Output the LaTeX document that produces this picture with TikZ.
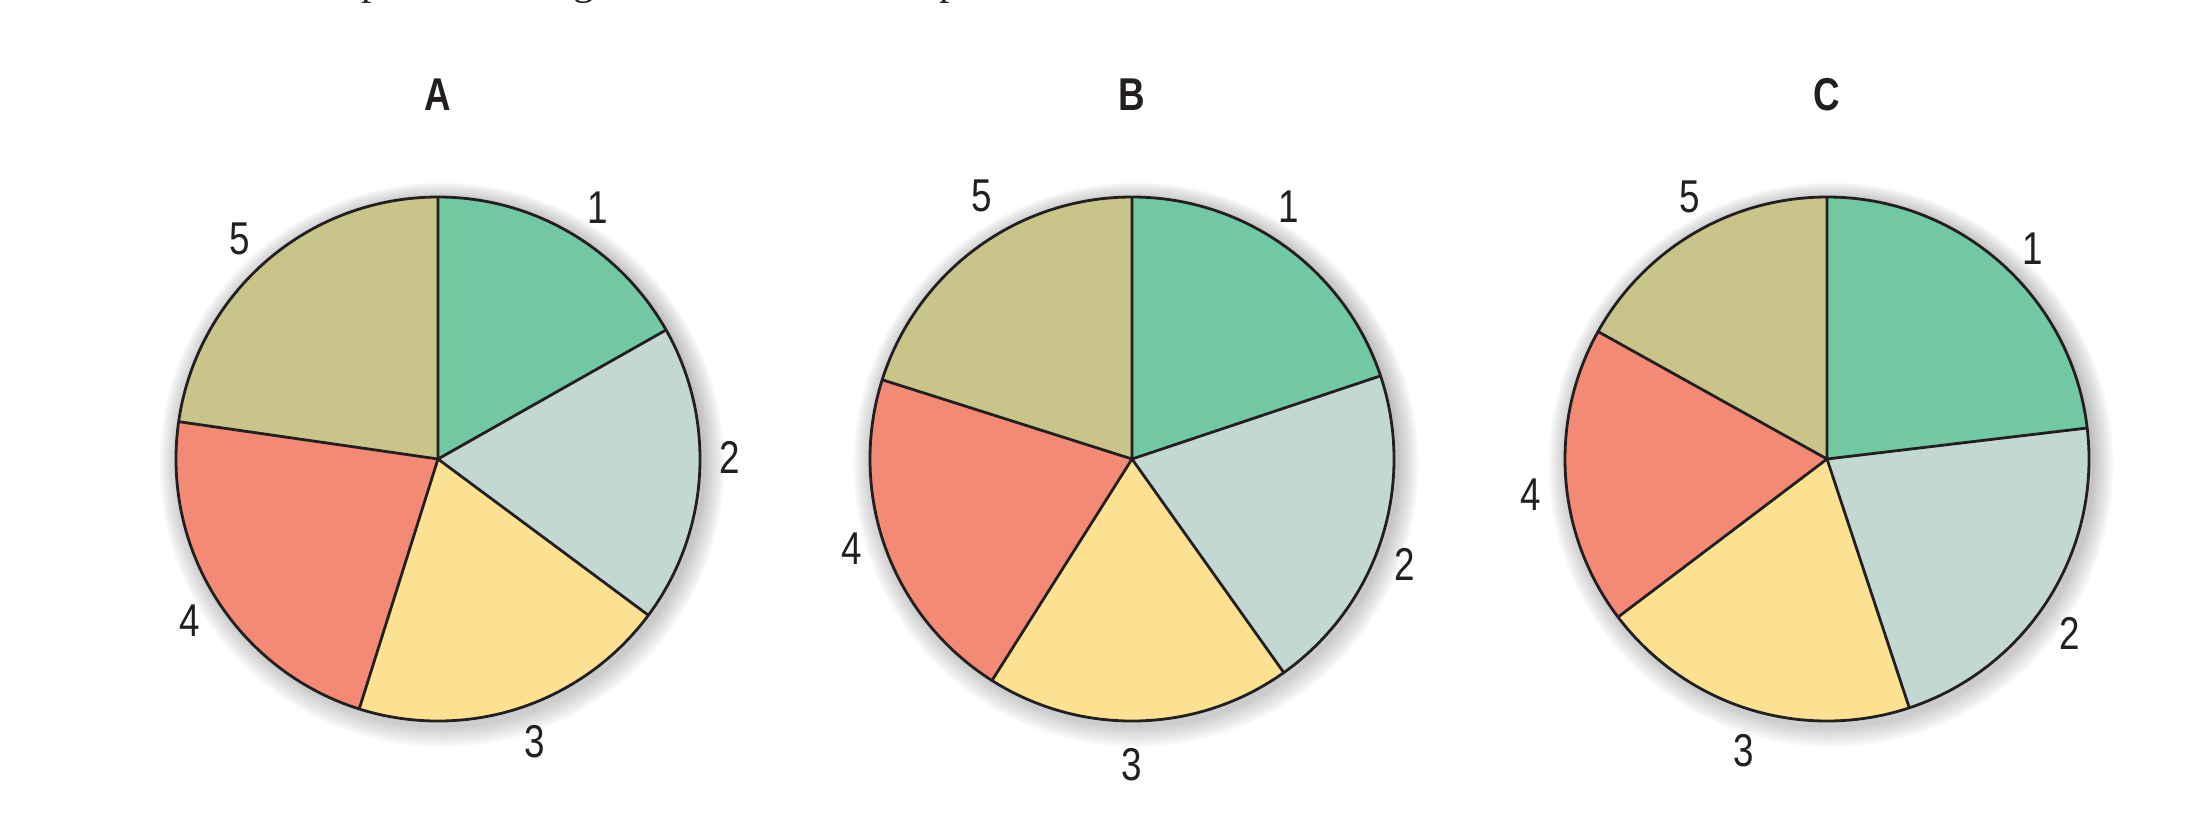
\documentclass[tikz,border=0pt]{standalone}
\usepackage{fontspec}
\newfontfamily\labfont{Liberation Sans}[FakeStretch=0.8]
\newfontfamily\fragfont{Liberation Serif}
\definecolor{sgreen}{RGB}{114,200,162}
\definecolor{sgray}{RGB}{196,216,211}
\definecolor{syellow}{RGB}{252,225,146}
\definecolor{ssalmon}{RGB}{243,138,117}
\definecolor{skhaki}{RGB}{201,196,138}
\definecolor{edge}{RGB}{35,31,32}
\definecolor{shade}{RGB}{80,82,95}
\tikzset{
  lab/.style={font=\labfont\fontsize{23}{27}\selectfont, text=edge, inner sep=0pt},
  ttl/.style={font=\labfont\bfseries\fontsize{23}{27}\selectfont, text=edge, inner sep=0pt},
  frag/.style={font=\fragfont\fontsize{21}{25}\selectfont, text=edge, inner sep=0pt, anchor=base},
  rim/.style={draw=edge, line width=1.4pt, line join=round},
}
\newcommand\mypie[7]{%
  \coordinate (#1) at (#2,#3);
  \foreach \k in {1,2.5,4,5.5,7,8.5,10,11.5,13,14.5,16,17.5,19,20.5}{
    \fill[shade, opacity=0.016, shift={(#1)}] (4,-6) circle[radius=262+\k];
  }
  \fill[sgreen]  (#1) -- ++(#4:262) arc[start angle=#4, end angle=90, radius=262] -- cycle;
  \fill[sgray]   (#1) -- ++(#5:262) arc[start angle=#5, end angle=#4, radius=262] -- cycle;
  \fill[syellow] (#1) -- ++(#6:262) arc[start angle=#6, end angle=#5, radius=262] -- cycle;
  \fill[ssalmon] (#1) -- ++(#7:262) arc[start angle=#7, end angle={#6+360}, radius=262] -- cycle;
  \fill[skhaki]  (#1) -- ++(90:262) arc[start angle=90, end angle=#7, radius=262] -- cycle;
  \draw[rim] (#1) -- ++(90:262) (#1) -- ++(#4:262) (#1) -- ++(#5:262)
             (#1) -- ++(#6:262) (#1) -- ++(#7:262);
  \draw[rim] (#1) circle[radius=262];
}
\begin{document}
\begin{tikzpicture}[x=0.5pt,y=0.5pt]
\useasboundingbox (0,0) rectangle (2194,-832);
\begin{scope}
\clip (0,0) rectangle (2194,-832);
\node[frag] (f1) at (372,6) {p};
\node[frag] (f2) at (584,6) {g};
\node[frag] (f3) at (950,6) {p};
\end{scope}

\mypie{pa}{438}{-459}{29.5}{-36.6}{-107.5}{171.8}
\mypie{pb}{1132}{-459}{18.5}{-54.6}{-122.3}{162.4}
\mypie{pc}{1827}{-459}{6.8}{-71.7}{-142.9}{150.9}

\node[ttl] (ta) at (438,-95) {A};
\node[ttl] (tb) at (1132,-95) {B};
\node[ttl] (tc) at (1827,-95) {C};

\node[lab] (a1) at (598,-208) {1};
\node[lab] (a2) at (730,-457) {2};
\node[lab] (a3) at (535,-742) {3};
\node[lab] (a4) at (190,-621) {4};
\node[lab] (a5) at (240,-239) {5};

\node[lab] (b1) at (1289,-207) {1};
\node[lab] (b2) at (1405,-564) {2};
\node[lab] (b3) at (1132,-765) {3};
\node[lab] (b4) at (852,-549) {4};
\node[lab] (b5) at (982,-196) {5};

\node[lab] (c1) at (2033,-249) {1};
\node[lab] (c2) at (2070,-633) {2};
\node[lab] (c3) at (1744,-751) {3};
\node[lab] (c4) at (1531,-495) {4};
\node[lab] (c5) at (1690,-197) {5};
\end{tikzpicture}
\end{document}
